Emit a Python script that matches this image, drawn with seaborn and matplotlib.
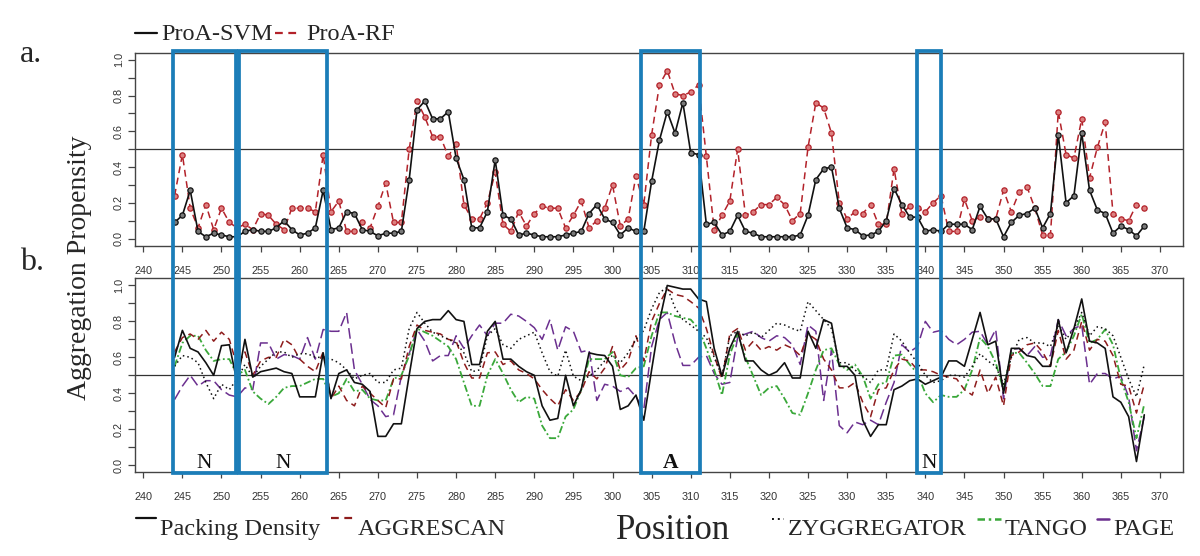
import matplotlib
matplotlib.use("Agg")
import matplotlib.pyplot as plt
import matplotlib.transforms as mtransforms
from matplotlib.patches import Rectangle
from matplotlib.lines import Line2D
from matplotlib.ticker import MultipleLocator
import pandas as pd
import seaborn as sns

# === residue positions (x axis) ===
positions = list(range(244, 369))

# === panel a: ProA predictions ===
proa_svm = [
    0.09, 0.13, 0.27, 0.04, 0.01, 0.03, 0.02, 0.01, 0.01, 0.04,
    0.05, 0.04, 0.04, 0.06, 0.10, 0.05, 0.02, 0.03, 0.06, 0.27,
    0.05, 0.06, 0.15, 0.14, 0.05, 0.04, 0.015, 0.03, 0.03, 0.04,
    0.33, 0.72, 0.77, 0.67, 0.67, 0.71, 0.45, 0.33, 0.06, 0.06,
    0.15, 0.44, 0.13, 0.11, 0.02, 0.03, 0.02, 0.01, 0.01, 0.01,
    0.02, 0.03, 0.04, 0.14, 0.19, 0.11, 0.09, 0.02, 0.06, 0.04,
    0.04, 0.32, 0.55, 0.71, 0.59, 0.76, 0.48, 0.47, 0.08, 0.09,
    0.02, 0.04, 0.13, 0.04, 0.03, 0.01, 0.01, 0.01, 0.01, 0.01,
    0.02, 0.13, 0.33, 0.39, 0.40, 0.17, 0.06, 0.05, 0.015, 0.02,
    0.04, 0.10, 0.28, 0.19, 0.12, 0.12, 0.04, 0.05, 0.04, 0.08,
    0.08, 0.08, 0.05, 0.18, 0.11, 0.11, 0.01, 0.09, 0.13, 0.14,
    0.17, 0.06, 0.14, 0.58, 0.20, 0.24, 0.59, 0.27, 0.16, 0.14,
    0.03, 0.07, 0.05, 0.015, 0.07,
]
proa_rf = [
    0.24, 0.47, 0.17, 0.06, 0.19, 0.05, 0.17, 0.09, 0.06, 0.08,
    0.05, 0.14, 0.13, 0.08, 0.05, 0.17, 0.17, 0.17, 0.15, 0.47,
    0.15, 0.21, 0.04, 0.04, 0.09, 0.06, 0.18, 0.31, 0.09, 0.09,
    0.50, 0.77, 0.68, 0.57, 0.57, 0.46, 0.53, 0.19, 0.11, 0.11,
    0.20, 0.37, 0.08, 0.04, 0.15, 0.07, 0.14, 0.18, 0.17, 0.17,
    0.06, 0.13, 0.21, 0.06, 0.10, 0.17, 0.30, 0.07, 0.11, 0.35,
    0.19, 0.58, 0.86, 0.94, 0.81, 0.80, 0.82, 0.86, 0.46, 0.05,
    0.13, 0.21, 0.50, 0.13, 0.15, 0.19, 0.19, 0.23, 0.19, 0.10,
    0.14, 0.51, 0.76, 0.73, 0.59, 0.20, 0.11, 0.15, 0.14, 0.19,
    0.08, 0.08, 0.39, 0.14, 0.18, 0.17, 0.15, 0.20, 0.24, 0.04,
    0.04, 0.22, 0.10, 0.12, 0.11, 0.11, 0.27, 0.15, 0.26, 0.29,
    0.17, 0.02, 0.02, 0.71, 0.47, 0.45, 0.67, 0.34, 0.51, 0.65,
    0.14, 0.11, 0.10, 0.19, 0.17,
]

# === panel b: other predictors ===
packing_density = [
    0.60, 0.75, 0.65, 0.63, 0.57, 0.50, 0.665, 0.67, 0.46, 0.70,
    0.49, 0.52, 0.53, 0.54, 0.52, 0.51, 0.38, 0.38, 0.38, 0.625,
    0.37, 0.51, 0.53, 0.46, 0.45, 0.41, 0.16, 0.16, 0.23, 0.23,
    0.50, 0.76, 0.80, 0.81, 0.81, 0.86, 0.81, 0.80, 0.56, 0.56,
    0.745, 0.80, 0.59, 0.59, 0.55, 0.52, 0.50, 0.33, 0.25, 0.26,
    0.50, 0.33, 0.42, 0.625, 0.615, 0.61, 0.55, 0.31, 0.33, 0.39,
    0.25, 0.53, 0.80, 1.00, 0.99, 0.98, 0.98, 0.925, 0.91, 0.65,
    0.495, 0.65, 0.745, 0.58, 0.58, 0.53, 0.50, 0.52, 0.57, 0.485,
    0.485, 0.745, 0.65, 0.81, 0.79, 0.55, 0.55, 0.50, 0.25, 0.16,
    0.225, 0.225, 0.42, 0.44, 0.47, 0.48, 0.45, 0.47, 0.49, 0.58,
    0.58, 0.55, 0.70, 0.85, 0.67, 0.69, 0.40, 0.65, 0.65, 0.61,
    0.60, 0.55, 0.55, 0.81, 0.625, 0.76, 0.925, 0.69, 0.68, 0.65,
    0.38, 0.35, 0.27, 0.02, 0.28,
]
aggrescan = [
    0.63, 0.71, 0.73, 0.70, 0.75, 0.69, 0.74, 0.70, 0.55, 0.63,
    0.50, 0.58, 0.60, 0.60, 0.70, 0.67, 0.59, 0.55, 0.52, 0.63,
    0.37, 0.44, 0.36, 0.33, 0.44, 0.40, 0.36, 0.32, 0.48, 0.48,
    0.66, 0.78, 0.75, 0.74, 0.73, 0.70, 0.69, 0.57, 0.485, 0.485,
    0.625, 0.63, 0.56, 0.58, 0.53, 0.51, 0.48, 0.42, 0.37, 0.33,
    0.42, 0.36, 0.41, 0.52, 0.48, 0.54, 0.66, 0.53, 0.58, 0.72,
    0.58, 0.80, 0.90, 0.98, 0.95, 0.94, 0.91, 0.875, 0.76, 0.61,
    0.48, 0.73, 0.76, 0.64, 0.69, 0.64, 0.66, 0.64, 0.67, 0.65,
    0.61, 0.73, 0.70, 0.59, 0.53, 0.43, 0.43, 0.46, 0.35, 0.27,
    0.42, 0.43, 0.53, 0.59, 0.58, 0.53, 0.53, 0.52, 0.50, 0.49,
    0.48, 0.42, 0.39, 0.53, 0.40, 0.49, 0.33, 0.61, 0.63, 0.67,
    0.68, 0.63, 0.55, 0.75, 0.59, 0.64, 0.80, 0.64, 0.70, 0.69,
    0.61, 0.45, 0.44, 0.29, 0.45,
]
zyggregator = [
    0.55, 0.61, 0.60, 0.57, 0.46, 0.37, 0.45, 0.42, 0.48, 0.56,
    0.49, 0.55, 0.59, 0.63, 0.63, 0.60, 0.62, 0.62, 0.60, 0.60,
    0.59, 0.57, 0.53, 0.48, 0.50, 0.51, 0.46, 0.46, 0.53, 0.54,
    0.76, 0.85, 0.79, 0.74, 0.72, 0.70, 0.68, 0.625, 0.52, 0.53,
    0.72, 0.76, 0.67, 0.65, 0.70, 0.72, 0.74, 0.625, 0.52, 0.495,
    0.64, 0.495, 0.47, 0.495, 0.53, 0.58, 0.61, 0.57, 0.625, 0.70,
    0.75, 0.87, 0.96, 0.99, 0.875, 0.81, 0.78, 0.745, 0.71, 0.60,
    0.495, 0.72, 0.745, 0.72, 0.74, 0.71, 0.75, 0.79, 0.78, 0.76,
    0.745, 0.91, 0.86, 0.81, 0.76, 0.57, 0.57, 0.53, 0.495, 0.46,
    0.53, 0.53, 0.73, 0.69, 0.625, 0.57, 0.50, 0.46, 0.47, 0.50,
    0.50, 0.49, 0.55, 0.62, 0.58, 0.55, 0.45, 0.60, 0.70, 0.71,
    0.68, 0.68, 0.66, 0.78, 0.70, 0.76, 0.85, 0.72, 0.77, 0.76,
    0.72, 0.60, 0.48, 0.38, 0.56,
]
tango = [
    0.55, 0.68, 0.72, 0.72, 0.64, 0.58, 0.59, 0.59, 0.50, 0.53,
    0.41, 0.37, 0.34, 0.38, 0.43, 0.44, 0.44, 0.46, 0.48, 0.48,
    0.38, 0.40, 0.48, 0.41, 0.42, 0.37, 0.36, 0.36, 0.48, 0.50,
    0.61, 0.76, 0.74, 0.72, 0.69, 0.66, 0.59, 0.46, 0.33, 0.33,
    0.50, 0.59, 0.51, 0.42, 0.35, 0.38, 0.37, 0.22, 0.15, 0.15,
    0.27, 0.31, 0.42, 0.59, 0.59, 0.59, 0.63, 0.50, 0.49, 0.54,
    0.55, 0.72, 0.85, 0.85, 0.83, 0.82, 0.81, 0.76, 0.65, 0.53,
    0.39, 0.615, 0.73, 0.60, 0.495, 0.39, 0.43, 0.44, 0.37, 0.29,
    0.28, 0.40, 0.53, 0.64, 0.65, 0.56, 0.53, 0.56, 0.495, 0.37,
    0.45, 0.46, 0.61, 0.615, 0.56, 0.51, 0.40, 0.35, 0.39, 0.38,
    0.38, 0.42, 0.53, 0.71, 0.66, 0.57, 0.42, 0.625, 0.625, 0.57,
    0.51, 0.44, 0.44, 0.59, 0.63, 0.72, 0.84, 0.68, 0.70, 0.755,
    0.67, 0.48, 0.35, 0.15, 0.34,
]
page = [
    0.365, 0.44, 0.50, 0.44, 0.47, 0.47, 0.42, 0.39, 0.38, 0.43,
    0.42, 0.68, 0.68, 0.59, 0.615, 0.61, 0.59, 0.71, 0.59, 0.755,
    0.745, 0.745, 0.85, 0.53, 0.45, 0.365, 0.33, 0.27, 0.28, 0.495,
    0.62, 0.755, 0.69, 0.58, 0.61, 0.61, 0.72, 0.65, 0.72, 0.78,
    0.72, 0.79, 0.79, 0.84, 0.83, 0.80, 0.765, 0.70, 0.81, 0.64,
    0.77, 0.745, 0.63, 0.64, 0.36, 0.45, 0.44, 0.41, 0.43, 0.38,
    0.31, 0.66, 0.81, 0.85, 0.68, 0.555, 0.555, 0.60, 0.61, 0.51,
    0.45, 0.46, 0.71, 0.73, 0.745, 0.71, 0.69, 0.72, 0.71, 0.67,
    0.56, 0.78, 0.745, 0.36, 0.64, 0.22, 0.18, 0.24, 0.225, 0.25,
    0.225, 0.35, 0.46, 0.67, 0.63, 0.66, 0.80, 0.74, 0.75, 0.70,
    0.67, 0.70, 0.74, 0.745, 0.67, 0.755, 0.37, 0.64, 0.65, 0.61,
    0.66, 0.60, 0.61, 0.81, 0.72, 0.76, 0.78, 0.45, 0.51, 0.51,
    0.48, 0.495, 0.38, 0.08, 0.27,
]

# highlighted regions (start, end, label)
region_start = [243.8, 252.2, 303.6, 338.9]
region_end = [251.8, 263.5, 311.2, 342.0]
region_label = ["N", "N", "A", "N"]

BLUE = "#1b7db8"
SERIF = ["Liberation Serif", "DejaVu Serif"]

sns.set_theme(style="white")
plt.rcParams["font.family"] = ["Liberation Sans", "DejaVu Sans"]

W, H = 1200, 556
fig = plt.figure(figsize=(12, 5.56), dpi=100)
fig.patch.set_facecolor("white")


def fx(px):
    return px / W


def fy(py):
    return 1 - py / H


ax_a = fig.add_axes([fx(135), fy(245.7), (1183 - 135) / W, (245.7 - 52.7) / H])
ax_b = fig.add_axes([fx(135), fy(472.3), (1183 - 135) / W, (472.3 - 278.3) / H])

top = pd.DataFrame({"pos": positions, "svm": proa_svm, "rf": proa_rf})
bot = pd.DataFrame({"pos": positions, "pd": packing_density, "agg": aggrescan,
                    "zyg": zyggregator, "tango": tango, "page": page})

# --- panel a
sns.lineplot(data=top, x="pos", y="rf", ax=ax_a, color="#b3222a", linewidth=1.1,
             linestyle=(0, (4.5, 3)), marker="o", markersize=3.8,
             markerfacecolor="#dc8080", markeredgecolor="#b3222a",
             markeredgewidth=0.9, errorbar=None)
sns.lineplot(data=top, x="pos", y="svm", ax=ax_a, color="#111111", linewidth=1.2,
             marker="o", markersize=3.8, markerfacecolor="#7a7a7a",
             markeredgecolor="#111111", markeredgewidth=0.9, errorbar=None)

# --- panel b
sns.lineplot(data=bot, x="pos", y="page", ax=ax_b, color="#6b2f8f", linewidth=1.1,
             linestyle=(0, (7, 3)), errorbar=None)
sns.lineplot(data=bot, x="pos", y="tango", ax=ax_b, color="#3aa83a", linewidth=1.3,
             linestyle=(0, (4, 1.5, 1, 1.5)), errorbar=None)
sns.lineplot(data=bot, x="pos", y="agg", ax=ax_b, color="#8e1c1c", linewidth=1.1,
             linestyle=(0, (4.5, 3)), errorbar=None)
sns.lineplot(data=bot, x="pos", y="zyg", ax=ax_b, color="#111111", linewidth=1.1,
             linestyle=(0, (1, 2)), errorbar=None)
sns.lineplot(data=bot, x="pos", y="pd", ax=ax_b, color="#111111", linewidth=1.2,
             errorbar=None)

for ax in (ax_a, ax_b):
    ax.axhline(0.5, color="#333333", linewidth=0.9, zorder=1)
    ax.set_xlim(238.94, 372.95)
    ax.set_ylim(-0.04, 1.04)
    ax.set_xticks(list(range(240, 371, 5)))
    ax.yaxis.set_major_locator(MultipleLocator(0.2))
    ax.yaxis.set_minor_locator(MultipleLocator(0.1))
    ax.yaxis.set_major_formatter(plt.FuncFormatter(lambda v, p: f"{v:.1f}"))
    ax.set_xlabel("")
    ax.set_ylabel("")
    for s in ax.spines.values():
        s.set_color("#444444")
        s.set_linewidth(1.0)
    ax.tick_params(axis="x", which="both", direction="out", length=4.5, width=0.9,
                   color="#444444", labelsize=7.8, labelcolor="#333333", pad=10,
                   bottom=True)
    ax.tick_params(axis="y", which="both", direction="out", length=5, width=0.9,
                   color="#444444", labelsize=7.8, labelcolor="#333333", pad=3,
                   left=True, labelrotation=90)
    for t in ax.get_yticklabels():
        t.set_verticalalignment("center")

# --- highlighted boxes spanning both panels
blend = mtransforms.blended_transform_factory(ax_a.transData, fig.transFigure)
y_top, y_bot = fy(50.7), fy(472.5)
for x0, x1, lab in zip(region_start, region_end, region_label):
    rect = Rectangle((x0, y_bot), x1 - x0, y_top - y_bot, transform=blend,
                     fill=False, edgecolor=BLUE, linewidth=2.7, clip_on=False,
                     zorder=10)
    fig.add_artist(rect)
    fig.text((x0 + x1) / 2, fy(467.5), lab, transform=blend, family=SERIF,
             fontsize=15.5, ha="center", va="baseline",
             fontweight="bold" if lab == "A" else "normal", color="#111111")

# --- panel letters and axis titles
fig.text(fx(20), fy(62), "a.", family=SERIF, fontsize=23, ha="left", va="baseline")
fig.text(fx(20), fy(270), "b.", family=SERIF, fontsize=23, ha="left", va="baseline")
fig.text(fx(80), fy(268), "Aggregation Propensity", family=SERIF, fontsize=20,
         rotation=90, ha="center", va="center")
fig.text(fx(616), fy(539), "Position", family=SERIF, fontsize=25, ha="left",
         va="baseline")


# --- legends drawn as text + sample lines
def sample(x0, x1, y, **kw):
    fig.add_artist(Line2D([fx(x0), fx(x1)], [fy(y), fy(y)], transform=fig.transFigure, **kw))


def label(x, y, s):
    fig.text(fx(x), fy(y), s, family=SERIF, fontsize=17.5, ha="left", va="baseline")


sample(135, 157, 33, color="#111111", linewidth=1.6)
label(161, 39.5, "ProA-SVM")
sample(275, 301, 33, color="#b3222a", linewidth=1.6, linestyle=(0, (3.5, 2.5)))
label(306, 39.5, "ProA-RF")

sample(136, 156, 518, color="#111111", linewidth=1.6)
label(160, 534.6, "Packing Density")
sample(331, 354, 518, color="#8e1c1c", linewidth=1.6, linestyle=(0, (3.5, 2.5)))
label(358, 534.6, "AGGRESCAN")
sample(772, 784, 519, color="#111111", linewidth=1.4, linestyle=(0, (1, 2)))
label(788, 534.6, "ZYGGREGATOR")
sample(977, 1001, 519, color="#3aa83a", linewidth=1.8, linestyle=(0, (3, 1.5, 1, 1.5)))
label(1005, 534.6, "TANGO")
sample(1097, 1109, 519, color="#6b2f8f", linewidth=1.8)
label(1113, 534.6, "PAGE")

fig.savefig("out.png", dpi=100, facecolor="white")
print("saved out.png")
